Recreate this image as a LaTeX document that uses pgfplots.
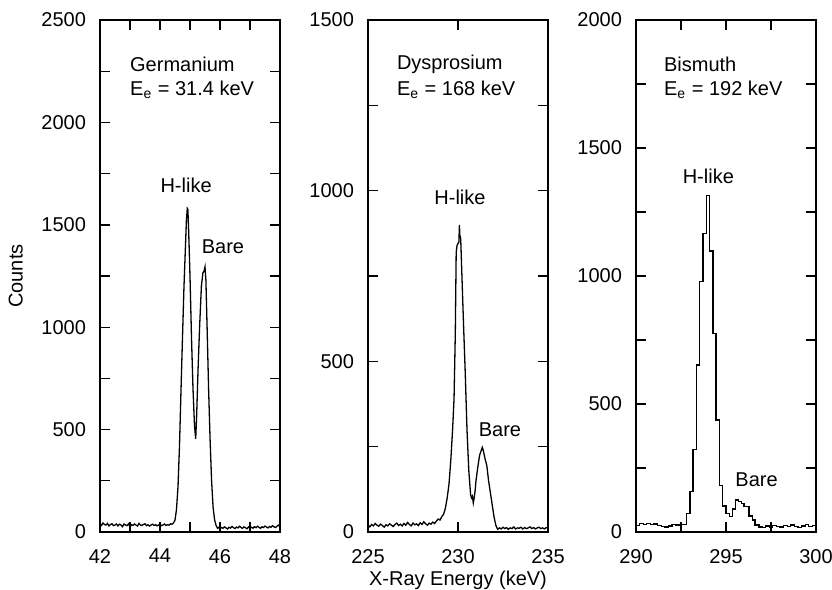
\documentclass[border=0pt]{standalone}
\usepackage{fontspec}
\setmainfont{Liberation Sans}
\usepackage{pgfplots}
\pgfplotsset{compat=1.18}

\pgfplotsset{
  panel/.style={
    scale only axis,
    width=90pt, height=256pt,
    axis line style={line width=0.8pt},
    tick style={black, line width=0.7pt},
    major tick length=5pt,
    minor tick length=5pt,
    tick align=inside,
    xtick pos=both, ytick pos=both,
    /pgf/number format/assume math mode=true,
    /pgf/number format/1000 sep={},
    tick label style={font=\fontsize{10}{12}\selectfont},
    xticklabel shift=5pt,
    yticklabel style={xshift=-3.5pt},
    clip=true,
  },
  spec/.style={black, line width=0.65pt, mark=none},
}

\begin{document}
\fontsize{10}{12}\selectfont
\begin{tikzpicture}
\useasboundingbox (-50pt,-29pt) rectangle (366pt,266pt);

% Germanium
\begin{axis}[panel, at={(0pt,0pt)},
    xmin=42, xmax=48, ymin=0, ymax=2500,
    xtick={42,44,46,48}, minor xtick={43,45,47},
    ytick={0,500,...,2500}, minor ytick={250,750,...,2250},
    ylabel={Counts}, ylabel style={font=\fontsize{10}{12}\selectfont, yshift=2.5pt}]
\addplot[spec] coordinates {
(42.00,40) (42.05,32) (42.10,44) (42.15,36) (42.20,34) (42.25,42) (42.30,29) (42.35,37)
(42.40,40) (42.45,31) (42.50,34) (42.55,39) (42.60,30) (42.65,38) (42.70,34) (42.75,26)
(42.80,39) (42.85,34) (42.90,31) (42.95,40) (43.00,24) (43.05,36) (43.10,32) (43.15,39)
(43.20,34) (43.25,29) (43.30,42) (43.35,34) (43.40,32) (43.45,37) (43.50,40) (43.55,31)
(43.60,35) (43.65,29) (43.70,34) (43.75,38) (43.80,32) (43.85,36) (43.90,30) (43.95,34)
(44.00,38) (44.05,31) (44.10,34) (44.15,39) (44.20,32) (44.25,36) (44.30,33) (44.35,40)
(44.40,38) (44.45,44) (44.50,58) (44.55,110) (44.60,220) (44.65,420) (44.70,690) (44.75,950)
(44.80,1200) (44.85,1400) (44.88,1520) (44.91,1580) (44.93,1575) (44.96,1450) (45.00,1250)
(45.05,950) (45.10,700) (45.15,520) (45.19,455) (45.22,560) (45.27,800) (45.32,1000)
(45.38,1200) (45.43,1265) (45.47,1275) (45.50,1295) (45.53,1230) (45.57,1000) (45.62,700)
(45.67,450) (45.72,250) (45.77,120) (45.82,60) (45.87,32) (45.92,18) (45.97,24) (46.00,16)
(46.05,22) (46.10,18) (46.15,25) (46.20,20) (46.25,15) (46.30,23) (46.35,19) (46.40,27)
(46.45,21) (46.50,17) (46.55,24) (46.60,20) (46.65,28) (46.70,22) (46.75,18) (46.80,25)
(46.85,21) (46.90,16) (46.95,24) (47.00,30) (47.05,22) (47.10,19) (47.15,26) (47.20,21)
(47.25,28) (47.30,23) (47.35,18) (47.40,25) (47.45,22) (47.50,29) (47.55,24) (47.60,20)
(47.65,27) (47.70,23) (47.75,31) (47.80,25) (47.85,22) (47.90,28) (47.95,34) (48.00,26)
};
\node[anchor=west] at (axis cs:42.77,2285) {Germanium};
\node[anchor=west] at (axis cs:42.77,2158) {E\textsubscript{e} = 31.4 keV};
\node at (axis cs:44.87,1694) {H-like};
\node at (axis cs:46.1,1393) {Bare};
\end{axis}

% Dysprosium
\begin{axis}[panel, at={(134pt,0pt)},
    xmin=225, xmax=235, ymin=0, ymax=1500,
    xtick={225,230,235},
    ytick={0,500,...,1500}, minor ytick={250,750,1250},
    xlabel={X-Ray Energy (keV)}, xlabel style={font=\fontsize{10}{12}\selectfont, yshift=3pt}]
\addplot[spec] coordinates {
(225.0,20) (225.1,15) (225.2,22) (225.3,18) (225.4,25) (225.5,20) (225.6,17) (225.7,23)
(225.8,19) (225.9,14) (226.0,21) (226.1,18) (226.2,24) (226.3,20) (226.4,16) (226.5,22)
(226.6,26) (226.7,19) (226.8,23) (226.9,18) (227.0,25) (227.1,20) (227.2,28) (227.3,22)
(227.4,18) (227.5,26) (227.6,21) (227.7,24) (227.8,19) (227.9,27) (228.0,22) (228.1,30)
(228.2,24) (228.3,20) (228.4,26) (228.5,23) (228.6,29) (228.7,25) (228.8,32) (228.9,38)
(229.0,35) (229.1,45) (229.2,52) (229.3,70) (229.4,100) (229.5,140) (229.6,210) (229.7,300)
(229.78,390) (229.85,580) (229.9,820) (229.95,840) (230.0,845) (230.05,850) (230.08,900)
(230.1,870) (230.15,860) (230.2,780) (230.3,620) (230.4,470) (230.5,300) (230.6,180)
(230.7,110) (230.75,100) (230.8,105) (230.85,85) (230.9,100) (230.95,120) (231.0,150)
(231.1,190) (231.2,225) (231.3,240) (231.35,248) (231.4,240) (231.5,215) (231.6,195)
(231.7,150) (231.8,115) (231.9,80) (232.0,45) (232.1,20) (232.2,8) (232.3,12) (232.4,9)
(232.5,14) (232.6,10) (232.7,13) (232.8,8) (232.9,12) (233.0,10) (233.1,15) (233.2,9)
(233.3,12) (233.4,11) (233.5,14) (233.6,9) (233.7,13) (233.8,10) (233.9,12) (234.0,15)
(234.1,10) (234.2,13) (234.3,9) (234.4,12) (234.5,14) (234.6,10) (234.7,12) (234.8,9)
(234.9,13) (235.0,11)
};
\node[anchor=west] at (axis cs:226.22,1371) {Dysprosium};
\node[anchor=west] at (axis cs:226.22,1295) {E\textsubscript{e} = 168 keV};
\node at (axis cs:230.11,979) {H-like};
\node at (axis cs:232.33,299) {Bare};
\end{axis}

% Bismuth
\begin{axis}[panel, at={(268pt,0pt)},
    xmin=290, xmax=300, ymin=0, ymax=2000,
    xtick={290,295,300}, minor xtick={292.5,297.5},
    ytick={0,500,...,2000}, minor ytick={250,750,...,1750}]
\addplot[spec, const plot] coordinates {
(290.0,25) (290.2,32) (290.4,30) (290.6,33) (290.8,28) (291.0,31) (291.2,26) (291.4,22)
(291.6,20) (291.8,24) (292.0,28) (292.2,27) (292.4,30) (292.6,28) (292.79,73) (293.0,157)
(293.16,323) (293.35,652) (293.54,978) (293.72,1167) (293.91,1314) (294.1,1098) (294.28,776)
(294.45,437) (294.64,181) (294.82,101) (295.0,73) (295.18,60) (295.35,90) (295.53,125)
(295.7,118) (295.85,110) (296.0,100) (296.13,99) (296.27,62) (296.46,47) (296.61,27)
(296.83,20) (297.0,18) (297.2,24) (297.4,20) (297.6,26) (297.8,22) (298.0,19) (298.2,25)
(298.4,21) (298.6,27) (298.8,22) (299.0,18) (299.2,24) (299.4,28) (299.6,22) (299.8,26)
(300.0,26)
};
\node[anchor=west] at (axis cs:291.17,1828) {Bismuth};
\node[anchor=west] at (axis cs:291.17,1727) {E\textsubscript{e} = 192 keV};
\node at (axis cs:294.02,1391) {H-like};
\node at (axis cs:296.7,203) {Bare};
\end{axis}

\end{tikzpicture}
\end{document}
